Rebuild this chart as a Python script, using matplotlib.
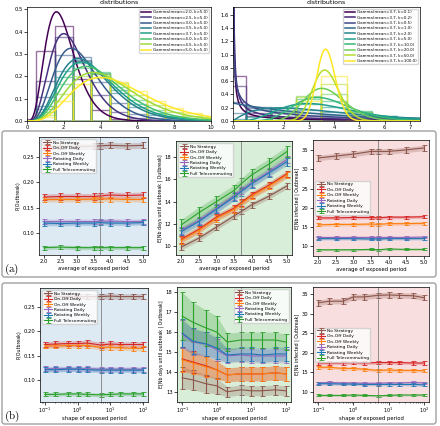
import numpy as np
import matplotlib
matplotlib.use("Agg")
import matplotlib.pyplot as plt
from matplotlib.patches import FancyBboxPatch
from math import lgamma

# ---- data ----
means_top = [2.0, 2.5, 3.0, 3.5, 3.7, 4.0, 4.5, 5.0]
k_top = 5.0
shapes_top = [0.1, 0.2, 0.5, 1.0, 2.0, 5.0, 10.0, 20.0, 50.0, 100.0]
mean_fixed = 3.7

strategies = ["No Strategy", "On-Off Daily", "On-Off Weekly",
              "Rotating Daily", "Rotating Weekly", "Full Telecommuting"]
colors = ["#8c564b", "#d62728", "#ff7f0e", "#9467bd", "#1f77b4", "#2ca02c"]

avg_x = [2.0, 2.5, 3.0, 3.5, 3.7, 4.0, 4.5, 5.0]
avg_ticks = [2.0, 2.5, 3.0, 3.5, 4.0, 4.5, 5.0]
shape_x = [0.1, 0.2, 0.5, 1.0, 2.0, 5.0, 10.0, 20.0, 50.0, 100.0]

# (a) P(outbreak)
a_pout = [
    [0.271, 0.272, 0.272, 0.272, 0.273, 0.274, 0.273, 0.274],
    [0.171, 0.172, 0.172, 0.172, 0.173, 0.175, 0.174, 0.175],
    [0.166, 0.166, 0.166, 0.167, 0.167, 0.167, 0.166, 0.166],
    [0.122, 0.122, 0.122, 0.122, 0.123, 0.123, 0.122, 0.122],
    [0.119, 0.118, 0.119, 0.119, 0.120, 0.119, 0.119, 0.120],
    [0.070, 0.071, 0.070, 0.070, 0.070, 0.070, 0.070, 0.070],
]
a_pout_err = [0.006, 0.006, 0.005, 0.005, 0.005, 0.004]

# (a) days until outbreak
a_days = [
    [9.9, 10.7, 11.7, 12.7, 13.1, 13.7, 14.5, 15.4],
    [10.6, 11.5, 12.6, 13.4, 13.9, 14.6, 15.5, 16.5],
    [10.5, 11.4, 12.5, 13.3, 13.8, 14.5, 15.4, 16.4],
    [11.4, 12.3, 13.4, 14.5, 15.0, 15.7, 16.7, 17.8],
    [11.3, 12.2, 13.3, 14.4, 14.9, 15.6, 16.6, 17.6],
    [11.9, 13.0, 14.0, 15.0, 15.6, 16.4, 17.4, 18.5],
]
a_days_err = [0.25, 0.3, 0.3, 0.35, 0.35, 0.5]

# (a) infected
a_inf = [
    [33.0, 33.5, 34.0, 34.7, 34.7, 34.7, 35.1, 35.6],
    [17.4, 17.4, 17.5, 17.5, 17.4, 17.6, 17.6, 17.7],
    [15.6, 15.7, 15.7, 15.8, 15.7, 15.9, 15.9, 16.0],
    [12.3, 12.3, 12.3, 12.3, 12.3, 12.3, 12.3, 12.4],
    [12.0, 12.0, 12.0, 11.9, 11.9, 12.0, 12.0, 12.0],
    [9.1, 9.1, 9.1, 9.2, 9.1, 9.3, 9.2, 9.2],
]
a_inf_err = [0.7, 0.4, 0.4, 0.35, 0.35, 0.25]

# (b) P(outbreak)
b_pout = [
    [0.272, 0.272, 0.272, 0.272, 0.272, 0.272, 0.273, 0.272, 0.272, 0.272],
    [0.173, 0.174, 0.175, 0.175, 0.176, 0.172, 0.174, 0.173, 0.173, 0.173],
    [0.170, 0.170, 0.171, 0.171, 0.171, 0.167, 0.167, 0.166, 0.165, 0.165],
    [0.123, 0.123, 0.123, 0.123, 0.123, 0.122, 0.122, 0.122, 0.122, 0.122],
    [0.121, 0.121, 0.122, 0.122, 0.121, 0.120, 0.120, 0.120, 0.120, 0.120],
    [0.070, 0.070, 0.071, 0.071, 0.070, 0.069, 0.070, 0.071, 0.071, 0.071],
]
b_pout_err = [0.006, 0.006, 0.005, 0.005, 0.005, 0.004]

# (b) days until outbreak
b_days = [
    [13.7, 13.6, 13.4, 13.3, 13.0, 13.1, 13.05, 13.05, 13.1, 13.05],
    [14.65, 14.5, 14.3, 14.1, 13.85, 13.9, 13.9, 13.9, 13.95, 13.9],
    [14.6, 14.45, 14.25, 14.1, 13.85, 13.9, 13.9, 13.9, 13.95, 13.9],
    [15.9, 15.5, 15.4, 15.1, 14.8, 14.85, 14.8, 14.8, 14.8, 14.8],
    [15.95, 15.55, 15.4, 15.2, 14.85, 14.9, 14.9, 14.85, 14.9, 14.9],
    [16.8, 16.5, 16.2, 16.0, 15.5, 15.6, 15.6, 15.6, 15.6, 15.5],
]
b_days_err = [
    [0.55, 0.5, 0.45, 0.4, 0.25, 0.25, 0.25, 0.25, 0.25, 0.25],
    [0.6, 0.55, 0.5, 0.45, 0.35, 0.35, 0.35, 0.35, 0.35, 0.35],
    [0.6, 0.55, 0.5, 0.45, 0.35, 0.35, 0.35, 0.35, 0.35, 0.35],
    [0.7, 0.65, 0.6, 0.55, 0.35, 0.35, 0.35, 0.35, 0.35, 0.35],
    [0.7, 0.65, 0.6, 0.55, 0.35, 0.35, 0.35, 0.35, 0.35, 0.35],
    [1.2, 1.0, 0.9, 0.8, 0.45, 0.4, 0.4, 0.4, 0.4, 0.4],
]

# (b) infected
b_inf = [
    [32.8, 33.2, 33.2, 34.3, 34.3, 34.7, 34.8, 34.7, 34.6, 34.1],
    [17.4, 17.4, 17.4, 17.5, 17.4, 17.5, 17.5, 17.5, 17.4, 17.4],
    [16.3, 16.3, 16.0, 16.0, 15.8, 15.5, 15.6, 15.5, 15.5, 15.4],
    [12.3, 12.4, 12.3, 12.3, 12.2, 12.2, 12.3, 12.3, 12.4, 12.3],
    [12.1, 12.1, 12.0, 12.0, 11.9, 11.9, 11.9, 11.9, 11.9, 11.8],
    [9.1, 9.1, 9.1, 9.2, 9.1, 9.0, 9.1, 9.2, 9.2, 9.2],
]
b_inf_err = [0.7, 0.4, 0.4, 0.35, 0.35, 0.25]


def gamma_pdf(x, mean, k):
    theta = mean / k
    return np.exp((k - 1) * np.log(x) - x / theta - lgamma(k) - k * np.log(theta))


def gamma_cdf(e, mean, k):
    if e <= 0:
        return 0.0
    theta = mean / k
    x0 = 1e-10
    g = np.geomspace(x0, e, 6000)
    head = np.exp(k * np.log(x0) - np.log(k) - lgamma(k) - k * np.log(theta))
    return head + np.trapezoid(gamma_pdf(g, mean, k), g)


plt.rcParams.update({
    "font.size": 4,
    "axes.linewidth": 0.5,
    "xtick.major.size": 2, "ytick.major.size": 2,
    "xtick.minor.size": 1, "ytick.minor.size": 1,
    "xtick.major.width": 0.5, "ytick.major.width": 0.5,
    "xtick.minor.width": 0.4, "ytick.minor.width": 0.4,
    "xtick.major.pad": 1.2, "ytick.major.pad": 1.2,
    "xtick.labelsize": 3.8, "ytick.labelsize": 3.8,
    "mathtext.fontset": "cm",
    "legend.borderpad": 0.3,
    "legend.handletextpad": 0.5,
})

W, H = 440, 426
fig = plt.figure(figsize=(W / 100, H / 100), dpi=100)


def rect(l, t, r, b):
    return [l / W, 1 - b / H, (r - l) / W, (b - t) / H]


# boxes around (a) and (b)
for (t, b) in [(131, 277), (283, 424)]:
    fig.patches.append(FancyBboxPatch((2 / W, 1 - b / H), 434 / W, (b - t) / H,
                                      boxstyle="round,pad=0,rounding_size=0.006",
                                      transform=fig.transFigure, fill=False,
                                      edgecolor="#a0a0a0", linewidth=1.0))
fig.text(4 / W, 1 - 269 / H, r"$\mathrm{(a)}$", fontsize=8, va="center")
fig.text(4 / W, 1 - 416 / H, r"$\mathrm{(b)}$", fontsize=8, va="center")

edges = np.arange(-0.5, 12.5, 1.0)
centers = edges[:-1] + 0.5

# top left
ax = fig.add_axes(rect(27, 7, 211, 121))
cols = plt.cm.viridis(np.linspace(0, 1, len(means_top)))
xs = np.linspace(0.001, 10, 400)
for m, c in zip(means_top, cols):
    cdf = np.array([gamma_cdf(e, m, k_top) for e in edges])
    ax.bar(centers, np.diff(cdf), width=1.0, fill=False, edgecolor=c, alpha=0.55, linewidth=1.0)
    ax.plot(xs, gamma_pdf(xs, m, k_top), color=c, lw=1.1,
            label="Gamma(mean=%.1f, k=%.1f)" % (m, k_top))
ax.set_xlim(0, 10)
ax.set_ylim(0, 0.51)
ax.set_title("distributions", fontsize=4.5, pad=2)
ax.legend(loc="upper right", fontsize=2.9, handlelength=2.6, labelspacing=0.35)

# top right
ax = fig.add_axes(rect(233, 7, 420, 121))
cols = plt.cm.viridis(np.linspace(0, 1, len(shapes_top)))
xs = np.linspace(0.001, 7.5, 600)
for kk, c in zip(shapes_top, cols):
    cdf = np.array([gamma_cdf(e, mean_fixed, kk) for e in edges])
    ax.bar(centers, np.diff(cdf), width=1.0, fill=False, edgecolor=c, alpha=0.55, linewidth=1.0)
    ax.plot(xs, gamma_pdf(xs, mean_fixed, kk), color=c, lw=1.1,
            label="Gamma(mean=%.1f, k=%.1f)" % (mean_fixed, kk))
ax.set_xlim(0, 7.4)
ax.set_ylim(0, 1.72)
ax.set_title("distributions", fontsize=4.5, pad=2)
ax.legend(loc="upper right", fontsize=2.9, handlelength=2.6, labelspacing=0.35)


def panel(pos, x, ys, errs, face, vline, xlabel, ylabel, loc, logx=False):
    ax = fig.add_axes(pos)
    ax.set_facecolor(face)
    for i, (name, c) in enumerate(zip(strategies, colors)):
        y = np.array(ys[i])
        e = errs[i]
        e = np.array(e) if np.ndim(e) else np.full(len(y), e)
        ax.fill_between(x, y - e, y + e, color=c, alpha=0.25, lw=0)
        ax.errorbar(x, y, yerr=e, color=c, lw=0.8, elinewidth=0.8, capsize=1.8,
                    capthick=0.6, label=name)
    ax.axvline(vline, color="gray", lw=0.6)
    if logx:
        ax.set_xscale("log")
        ax.tick_params(axis="x", which="major", pad=0.8, labelsize=3.6)
        ax.set_xlabel(xlabel, fontsize=3.8, labelpad=0.4)
    else:
        ax.set_xticks(avg_ticks)
        ax.set_xlabel(xlabel, fontsize=3.8, labelpad=1.2)
    ax.set_ylabel(ylabel, fontsize=3.4, labelpad=1.5)
    ax.legend(loc=loc, fontsize=3.2, handlelength=1.8, labelspacing=0.3)
    return ax


blue_bg = (0.12, 0.47, 0.71, 0.15)
green_bg = (0.17, 0.63, 0.17, 0.18)
red_bg = (0.84, 0.15, 0.16, 0.15)

panel(rect(39, 137, 148, 255), avg_x, a_pout, a_pout_err, blue_bg, 3.7,
      "average of exposed period", "P(Outbreak)", "upper left")
panel(rect(176, 141, 292, 255), avg_x, a_days, a_days_err, green_bg, 3.7,
      "average of exposed period", "E[Nb days until outbreak | Outbreak]", "upper left")
panel(rect(313, 140, 429, 256), avg_x, a_inf, a_inf_err, red_bg, 3.7,
      "average of exposed period", "E[Nb infected | Outbreak]", "center left")

panel(rect(40, 288, 148, 402), shape_x, b_pout, b_pout_err, blue_bg, 5.0,
      "shape of exposed period", "P(Outbreak)", "upper left", logx=True)
panel(rect(177, 287, 291, 402), shape_x, b_days, b_days_err, green_bg, 5.0,
      "shape of exposed period", "E[Nb days until outbreak | Outbreak]", "upper right", logx=True)
panel(rect(313, 287, 429, 402), shape_x, b_inf, b_inf_err, red_bg, 5.0,
      "shape of exposed period", "E[Nb infected | Outbreak]", "center left", logx=True)

fig.savefig("out.png", dpi=100)
